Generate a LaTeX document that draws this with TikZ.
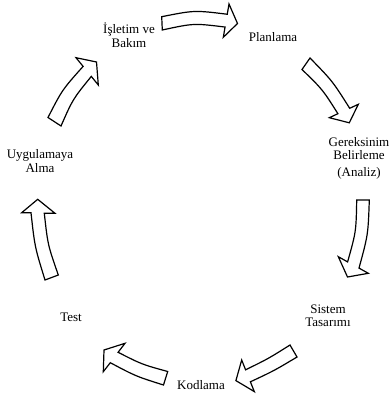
\documentclass[tikz,border=0pt]{standalone}
\usepackage{fontspec}
\setmainfont{Liberation Serif}
\begin{document}
\begin{tikzpicture}[x=1pt,y=-1pt,
  blockarrow/.style={draw=black, fill=white, line width=1.2pt, line join=miter},
  lbl/.style={inner sep=0pt, align=center, font=\fontsize{13}{13.5}\selectfont}]
\useasboundingbox (0,0) rectangle (390,398);
\fill[white] (0,0) rectangle (390,398);
\clip (0,0) rectangle (390,398);

% labels
\node[lbl] (isletim) at (129,35) {İşletim ve\\Bakım};
\node[lbl] (planlama) at (273,37) {Planlama};
\node[lbl] (gereksinim) at (359,158) {Gereksinim\\Belirleme\\[3pt](Analiz)};
\node[lbl] (sistem) at (328,316) {Sistem\\Tasarımı};
\node[lbl] (kodlama) at (201,385) {Kodlama};
\node[lbl] (test) at (71,317) {Test};
\node[lbl] (uygulama) at (40,161) {Uygulamaya\\Alma};

% block arrows
\draw[blockarrow] (161.7,16.7) .. controls (194.5,10.2) .. (227.25,14.25) -- (229,4) -- (237.5,23.5) -- (223.3,37.3) -- (225.05,27.05) .. controls (193.7,23.2) .. (162.3,30) -- cycle;
\draw[blockarrow] (310,58) .. controls (332.5,81.1) .. (349.7,108.3) -- (358.3,104.3) -- (349.3,122.8) -- (329.3,117.7) -- (337.9,113.7) .. controls (322.6,89.5) .. (302,69.5) -- cycle;
\draw[blockarrow] (369.3,200) .. controls (368.1,234.6) .. (359,268.1) -- (368.3,273.3) -- (347.5,277) -- (338.3,256.7) -- (347.6,261.9) .. controls (356.1,231.6) .. (356.7,200) -- cycle;
\draw[blockarrow] (297,357) .. controls (274.3,370.6) .. (250.4,381.8) -- (254.3,391.6) -- (235.9,380.6) -- (241.7,360) -- (245.6,369.8) .. controls (268.4,358.6) .. (290,345) -- cycle;
\draw[blockarrow] (163.5,385) .. controls (135.9,376.3) .. (110.3,362.7) -- (103.3,371.7) -- (104,350) -- (125,343.3) -- (118.1,352.3) .. controls (141.9,364.4) .. (167.7,371.5) -- cycle;
\draw[blockarrow] (45,280) .. controls (34.8,247) .. (31,212.7) -- (21.7,212.7) -- (37.7,199.3) -- (55,213.3) -- (44.3,213.3) .. controls (47.8,244.9) .. (58.3,275) -- cycle;
\draw[blockarrow] (48,117.5) .. controls (62.2,89.8) .. (83.1,66.4) -- (76,57.7) -- (96.5,62) -- (98.3,85) -- (91.3,76.4) .. controls (72.9,99) .. (61,126) -- cycle;
\end{tikzpicture}
\end{document}
